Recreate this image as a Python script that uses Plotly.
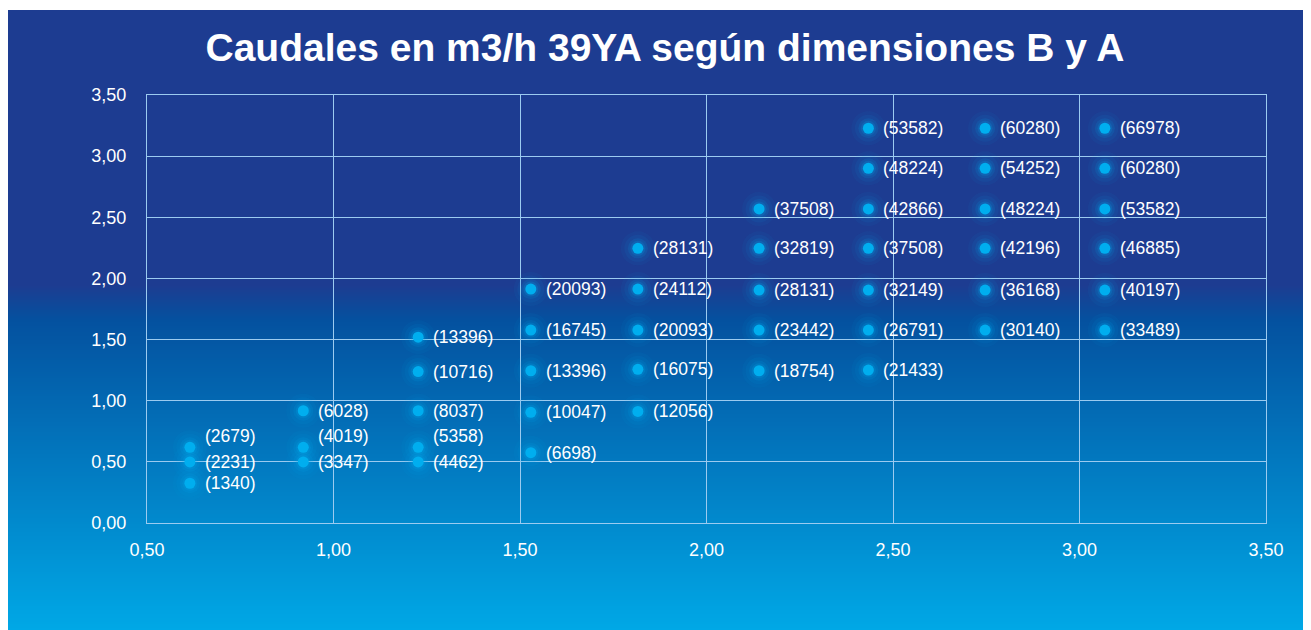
import plotly.graph_objects as go

# ---- data (dimension B on x, dimension A on y, caudal label) ----
col_b = [0.615, 0.919, 1.227, 1.529, 1.816, 2.141, 2.434, 2.747, 3.068]

a_c1 = [0.619, 0.499, 0.325]
q_c1 = [2679, 2231, 1340]
a_c2 = [0.918, 0.619, 0.499]
q_c2 = [6028, 4019, 3347]
a_c3 = [1.52, 1.238, 0.918, 0.619, 0.499]
q_c3 = [13396, 10716, 8037, 5358, 4462]
a_c4 = [1.913, 1.578, 1.245, 0.905, 0.575]
q_c4 = [20093, 16745, 13396, 10047, 6698]
a_c5 = [2.246, 1.913, 1.578, 1.257, 0.912]
q_c5 = [28131, 24112, 20093, 16075, 12056]
a_c6 = [2.568, 2.246, 1.905, 1.578, 1.245]
q_c6 = [37508, 32819, 28131, 23442, 18754]
a_c7 = [3.228, 2.90, 2.568, 2.246, 1.905, 1.578, 1.251]
q_c7 = [53582, 48224, 42866, 37508, 32149, 26791, 21433]
a_c8 = [3.228, 2.90, 2.568, 2.246, 1.905, 1.578]
q_c8 = [60280, 54252, 48224, 42196, 36168, 30140]
a_c9 = [3.228, 2.90, 2.568, 2.246, 1.905, 1.578]
q_c9 = [66978, 60280, 53582, 46885, 40197, 33489]

x_ticks = [0.5, 1.0, 1.5, 2.0, 2.5, 3.0, 3.5]
y_ticks = [0.0, 0.5, 1.0, 1.5, 2.0, 2.5, 3.0, 3.5]

title_text = "Caudales en m3/h 39YA según dimensiones B y A"

# ---- assemble ----
cols_a = [a_c1, a_c2, a_c3, a_c4, a_c5, a_c6, a_c7, a_c8, a_c9]
cols_q = [q_c1, q_c2, q_c3, q_c4, q_c5, q_c6, q_c7, q_c8, q_c9]
xs, ys, texts, yshift = [], [], [], []
for b, aa, qq in zip(col_b, cols_a, cols_q):
    for a, q in zip(aa, qq):
        xs.append(b)
        ys.append(a)
        texts.append(f"({q})")
        # labels for the crowded 0.62 row sit a bit higher
        yshift.append(11 if (b < 1.3 and 0.55 < a < 0.7) else 0)

OFF = 8  # page body margin offset in the screenshot
W, H = 1311, 630
L, T = 147 - OFF, 95 - OFF
pw, ph = 1119, 428
R, B = W - L - pw, H - T - ph

def px_to_paper_y(sy):  # screen pixel -> paper
    return (T + ph - (sy - OFF)) / ph

def px_to_paper_x(sx):
    return ((sx - OFF) - L) / pw

def hex2rgb(h):
    h = h.lstrip("#")
    return tuple(int(h[i:i + 2], 16) for i in (0, 2, 4))

def lerp(c1, c2, t):
    return tuple(round(c1[i] + (c2[i] - c1[i]) * t) for i in range(3))

navy = hex2rgb("#1d3c91")
mid = hex2rgb("#04519f")
cyan = hex2rgb("#00a8e6")

def bg_color(sy):
    if sy <= 285:
        c = navy
    elif sy <= 320:
        c = lerp(navy, mid, (sy - 285) / 35)
    else:
        c = lerp(mid, cyan, (sy - 320) / (630 - 320))
    return "rgb(%d,%d,%d)" % c

shapes = []
step = 2
x0p, x1p = px_to_paper_x(7), px_to_paper_x(W + 20)
sy = 10
while sy < H + 10:
    shapes.append(dict(
        type="rect", xref="paper", yref="paper", layer="below",
        x0=x0p, x1=x1p,
        y0=px_to_paper_y(sy + step + 1), y1=px_to_paper_y(sy),
        fillcolor=bg_color(sy + step / 2), line=dict(width=0),
    ))
    sy += step

FONT = "Liberation Sans, Arial, sans-serif"

fig = go.Figure()
# glow layers
for gsize, gop in [(34, 0.05), (27, 0.07), (20, 0.12), (15, 0.18)]:
    fig.add_trace(go.Scatter(x=xs, y=ys, mode="markers", hoverinfo="skip",
                             marker=dict(size=gsize, color=f"rgba(0,174,239,{gop})",
                                         line=dict(width=0))))
fig.add_trace(go.Scatter(
    x=xs, y=ys, mode="markers",
    marker=dict(size=11, color="#00aeef", line=dict(width=0)),
))

annotations = [
    dict(x=x, y=y, text=t, xref="x", yref="y", showarrow=False,
         xanchor="left", yanchor="middle", xshift=13, yshift=s,
         font=dict(family=FONT, size=17.5, color="white"))
    for x, y, t, s in zip(xs, ys, texts, yshift)
]

grid_c = "#9ccbf0"
fig.update_layout(
    width=W, height=H,
    margin=dict(l=L, r=R, t=T, b=B, pad=0),
    paper_bgcolor="white",
    plot_bgcolor="rgba(0,0,0,0)",
    showlegend=False,
    separators=",.",
    shapes=shapes,
    annotations=annotations,
    title=dict(text="<b>" + title_text + "</b>", xref="container", yref="container",
               x=(665 - OFF) / W, y=1 - (47 - OFF) / H, xanchor="center", yanchor="middle",
               font=dict(family=FONT, size=39, color="white")),
    xaxis=dict(range=[0.5, 3.5], tickvals=x_ticks, tickformat=".2f",
               showgrid=True, gridcolor=grid_c, gridwidth=1, zeroline=False,
               showline=True, linecolor=grid_c, linewidth=1, mirror=True,
               ticks="outside", ticklen=10, tickcolor="rgba(0,0,0,0)",
               tickfont=dict(family=FONT, size=18, color="white")),
    yaxis=dict(range=[0, 3.5], tickvals=y_ticks, tickformat=".2f",
               showgrid=True, gridcolor=grid_c, gridwidth=1, zeroline=False,
               showline=True, linecolor=grid_c, linewidth=1, mirror=True,
               ticks="outside", ticklen=16, tickcolor="rgba(0,0,0,0)",
               tickfont=dict(family=FONT, size=18, color="white")),
)

fig.write_html("out.html")
